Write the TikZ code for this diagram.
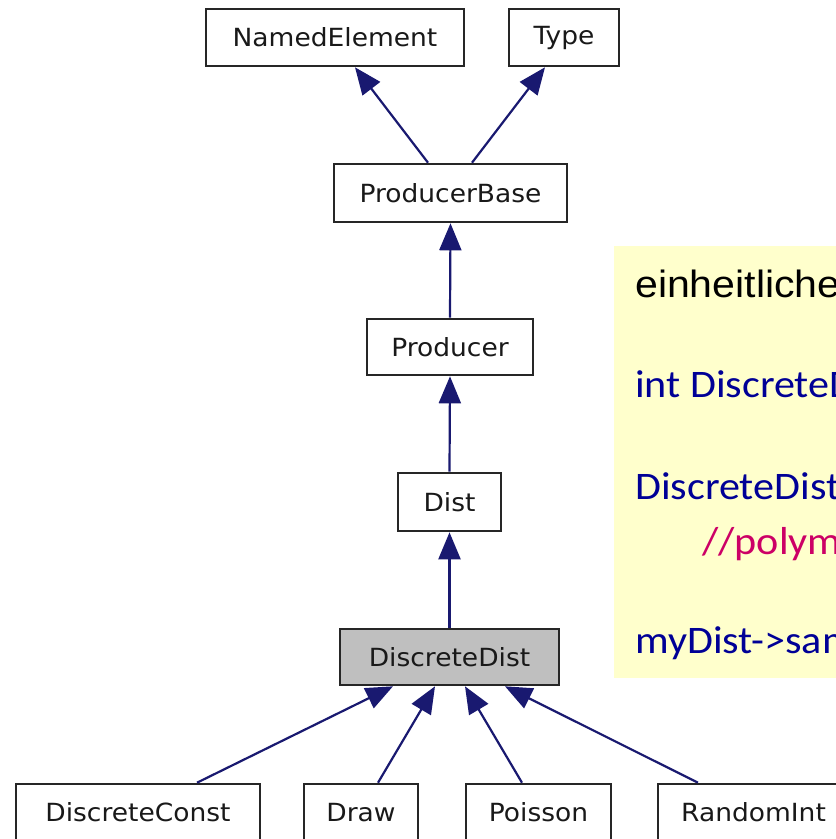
\documentclass[tikz,border=0pt]{standalone}
\usepackage{fontspec}
\usetikzlibrary{arrows.meta}
\newfontfamily\boxfont[FakeStretch=1.06]{DejaVu Sans}
\newfontfamily\notefont[FakeStretch=1.08]{Liberation Sans}
\newfontfamily\codefont[FakeStretch=1.08]{Carlito}
\definecolor{edgeblue}{RGB}{25,25,112}
\definecolor{notebg}{RGB}{255,255,204}
\definecolor{codeblue}{RGB}{0,0,150}
\definecolor{commentred}{RGB}{204,0,102}
\definecolor{hlgray}{RGB}{191,191,191}
\tikzset{
  classbox/.style={draw=black!85, line width=2.6pt, fill=white, inner sep=0pt,
    font=\boxfont\fontsize{25}{30}\selectfont, text=black!90},
  edge/.style={draw=edgeblue, line width=2.2pt,
    -{Triangle[length=27pt,width=22pt]}},
  notetext/.style={anchor=base west, inner sep=0pt},
}
\begin{document}
\begin{tikzpicture}[x=1pt,y=-1pt]
\path[use as bounding box] (0,0) rectangle (836,839);
\clip (0,0) rectangle (836,839);

% class hierarchy
\node[classbox, minimum width=258pt, minimum height=57pt] (ne) at (335,37.5) {NamedElement};
\node[classbox, minimum width=110pt, minimum height=57pt] (ty) at (564,37.5) {Type};
\node[classbox, minimum width=233pt, minimum height=58pt] (pb) at (450.5,193) {ProducerBase};
\node[classbox, minimum width=166pt, minimum height=56pt] (pr) at (450,347) {Producer};
\node[classbox, minimum width=103pt, minimum height=58pt] (di) at (449.5,502) {Dist};
\node[classbox, fill=hlgray, minimum width=219pt, minimum height=56pt] (dd) at (449.5,657) {DiscreteDist};
\node[classbox, minimum width=244pt, minimum height=57pt] (dc) at (138,812.5) {DiscreteConst};
\node[classbox, minimum width=114pt, minimum height=57pt] (dr) at (361,812.5) {Draw};
\node[classbox, minimum width=145pt, minimum height=57pt] (po) at (538.5,812.5) {Poisson};
\node[classbox, minimum width=191pt, minimum height=57pt] (ri) at (753.5,812.5) {RandomInt};

% inheritance edges (child -> parent)
\draw[edge] ([xshift=-22.5pt]pb.north) -- ([xshift=20pt]ne.south);
\draw[edge] ([xshift=21.5pt]pb.north) -- ([xshift=-19pt]ty.south);
\draw[edge] (pr.north) -- (pb.south);
\draw[edge] (di.north) -- (pr.south);
\draw[edge] (dd.north) -- (di.south);
\draw[edge] ([xshift=59pt]dc.north) -- ([xshift=-56.5pt]dd.south);
\draw[edge] ([xshift=17pt]dr.north) -- ([xshift=-14.5pt]dd.south);
\draw[edge] ([xshift=-16.5pt]po.north) -- ([xshift=15.5pt]dd.south);
\draw[edge] ([xshift=-55.5pt]ri.north) -- ([xshift=55.5pt]dd.south);

% note
\fill[notebg] (614,246) rectangle (860,678);
\node[notetext, font=\notefont\fontsize{38}{44}\selectfont] (n1) at (635,297) {einheitliche};
\node[notetext, font=\codefont\fontsize{39}{46}\selectfont, text=codeblue] (n2) at (635,397) {int DiscreteDist};
\node[notetext, font=\codefont\fontsize{39}{46}\selectfont, text=codeblue] (n3) at (635,499) {DiscreteDist};
\node[notetext, font=\codefont\fontsize{39}{46}\selectfont, text=commentred] (n4) at (702,554) {//polymorph};
\node[notetext, font=\codefont\fontsize{39}{46}\selectfont, text=codeblue] (n5) at (635,653) {myDist->sample};
\end{tikzpicture}
\end{document}
